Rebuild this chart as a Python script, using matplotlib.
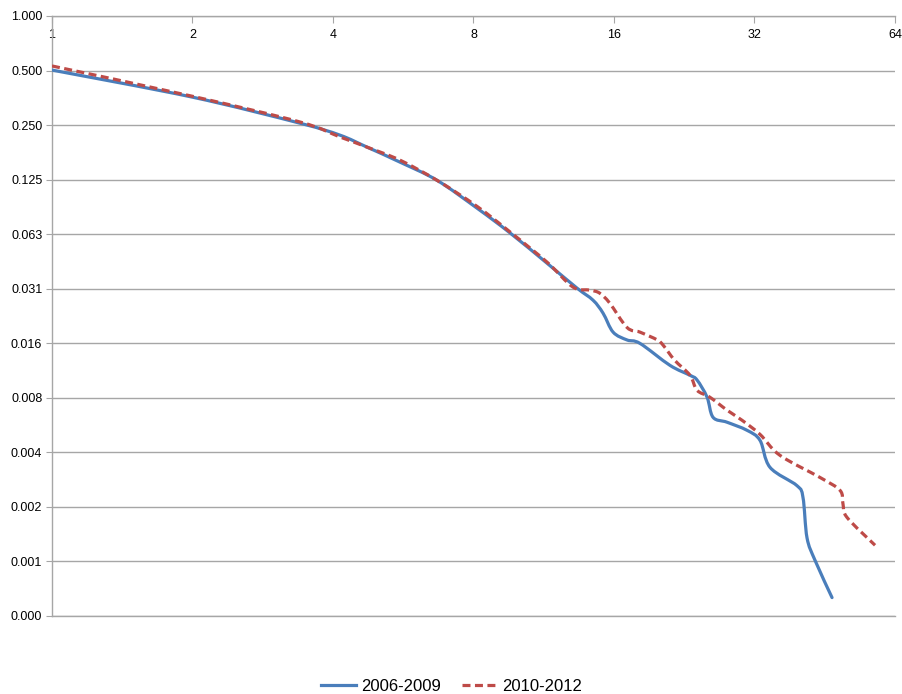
import matplotlib
matplotlib.use("Agg")
import numpy as np
import matplotlib.pyplot as plt
from matplotlib.ticker import FixedLocator, FixedFormatter, NullLocator
from matplotlib.path import Path
from matplotlib.patches import PathPatch
from matplotlib.lines import Line2D

plt.rcParams['font.family'] = ['Liberation Sans', 'DejaVu Sans']

# ---- data ----
x_2006 = [1.0, 1.995, 3.40, 4.14, 4.73, 5.57, 6.68, 8.14, 9.58, 11.50, 13.33, 14.43,
          15.16, 15.93, 17.06, 18.19, 21.09, 23.28, 24.10, 25.32, 26.08, 27.94, 30.84,
          32.88, 34.54, 39.45, 40.65, 41.46, 43.14, 46.91]
y_2006 = [0.503, 0.357, 0.256, 0.220, 0.189, 0.156, 0.124, 0.087, 0.0635, 0.0432, 0.0315,
          0.0270, 0.0229, 0.0180, 0.0163, 0.0156, 0.0118, 0.0104, 0.0098, 0.00788, 0.00610,
          0.00573, 0.00517, 0.00455, 0.00323, 0.00256, 0.00220, 0.00132, 0.00099, 0.000617]

x_2010 = [1.0, 1.995, 3.40, 4.14, 4.73, 5.57, 6.68, 8.14, 9.58, 11.50, 13.07, 14.23,
          14.92, 15.67, 17.06, 18.19, 19.81, 20.41, 21.58, 23.28, 24.10, 25.66, 27.94,
          30.10, 32.88, 36.29, 44.2, 48.8, 49.5, 50.5, 58.0]
y_2010 = [0.530, 0.361, 0.260, 0.215, 0.189, 0.160, 0.124, 0.089, 0.0643, 0.0438, 0.0319,
          0.0307, 0.0295, 0.0260, 0.0191, 0.0180, 0.0163, 0.0152, 0.0126, 0.0104, 0.0086,
          0.00788, 0.00668, 0.00587, 0.00491, 0.00376, 0.00284, 0.00241, 0.00204, 0.00171,
          0.00120]

x_ticks = [1, 2, 4, 8, 16, 32, 64]
x_labels = ['1', '2', '4', '8', '16', '32', '64']
y_ticks = [2.0 ** -k for k in range(12)]
y_labels = ['1.000', '0.500', '0.250', '0.125', '0.063', '0.031', '0.016', '0.008',
            '0.004', '0.002', '0.001', '0.000']
series_names = ['2006-2009', '2010-2012']

blue = '#4a7ebb'
red = '#be4b48'
grid_col = '#a6a6a6'
lw = 2.3
dash = (0, (2.5, 1.4))


def smooth_path(xs, ys):
    """Excel-style smoothed line: cubic Bezier segments built in log2 space."""
    lx = np.log2(np.asarray(xs, float))
    ly = np.log2(np.asarray(ys, float))
    n = len(lx)
    verts = [(lx[0], ly[0])]
    codes = [Path.MOVETO]
    for i in range(n - 1):
        p0 = i - 1 if i > 0 else i
        p3 = i + 2 if i + 2 < n else i + 1
        c1 = (lx[i] + (lx[i + 1] - lx[p0]) / 6.0, ly[i] + (ly[i + 1] - ly[p0]) / 6.0)
        c2 = (lx[i + 1] - (lx[p3] - lx[i]) / 6.0, ly[i + 1] - (ly[p3] - ly[i]) / 6.0)
        verts += [c1, c2, (lx[i + 1], ly[i + 1])]
        codes += [Path.CURVE4] * 3
    verts = np.power(2.0, np.array(verts))
    return Path(verts, codes)


# ---- figure ----
fig = plt.figure(figsize=(9.03, 6.94), dpi=100)
ax = fig.add_axes([52 / 903, 1 - 616 / 694, (895 - 52) / 903, 600 / 694])

ax.set_xscale('log', base=2)
ax.set_yscale('log', base=2)
ax.set_xlim(1, 64)
ax.set_ylim(2.0 ** -11, 1)

ax.yaxis.set_major_locator(FixedLocator(y_ticks))
ax.yaxis.set_major_formatter(FixedFormatter(y_labels))
ax.yaxis.set_minor_locator(NullLocator())
ax.xaxis.set_major_locator(FixedLocator(x_ticks))
ax.xaxis.set_major_formatter(FixedFormatter(x_labels))
ax.xaxis.set_minor_locator(NullLocator())

ax.xaxis.set_ticks_position('top')
ax.tick_params(axis='x', direction='in', length=5, color=grid_col, labelsize=9,
               pad=-18, labeltop=True, labelbottom=False)
ax.tick_params(axis='y', direction='out', length=4, color=grid_col, labelsize=9, pad=3)

ax.spines['right'].set_visible(False)
for s in ['top', 'left', 'bottom']:
    ax.spines[s].set_color(grid_col)
    ax.spines[s].set_linewidth(1.0)

ax.grid(axis='y', color=grid_col, linewidth=1.0)
ax.set_axisbelow(True)

ax.add_patch(PathPatch(smooth_path(x_2006, y_2006), fill=False, edgecolor=blue,
                       linewidth=lw, capstyle='round', joinstyle='round', zorder=3))
ax.add_patch(PathPatch(smooth_path(x_2010, y_2010), fill=False, edgecolor=red,
                       linewidth=lw, linestyle=dash, capstyle='butt', zorder=3))

handles = [Line2D([], [], color=blue, linewidth=lw),
           Line2D([], [], color=red, linewidth=lw, linestyle=dash)]
fig.legend(handles, series_names, loc='lower center', bbox_to_anchor=(0.5, -0.022),
           ncol=2, frameon=False, fontsize=12, handlelength=2.1, columnspacing=1.3,
           handletextpad=0.3)

fig.savefig('out.png', dpi=100)
